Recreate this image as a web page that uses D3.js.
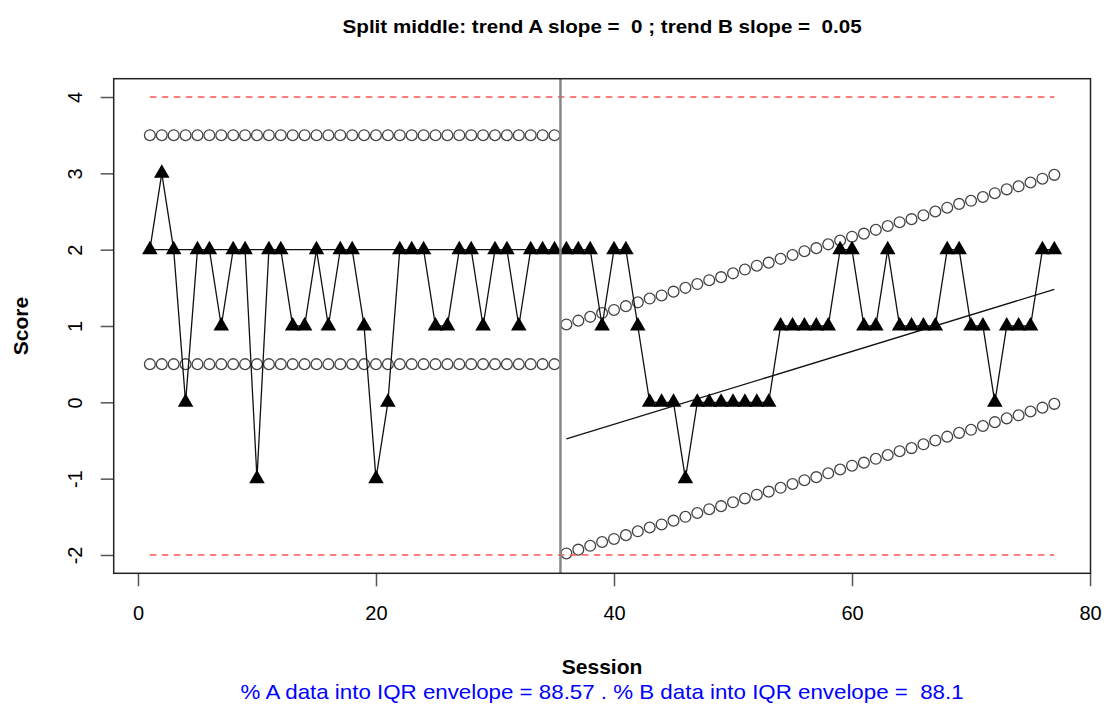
<!DOCTYPE html>
<html lang="en">
<head>
<meta charset="UTF-8">
<title>Split middle</title>
<script src="https://d3js.org/d3.v7.min.js"></script>
<style>
  body { margin: 0; background: #fff; }
  svg { display: block; font-family: "Liberation Sans", Arial, Helvetica, sans-serif; }
  svg text { white-space: pre; }
  .axis path { display: none; }
  .axis line { stroke: #555; stroke-width: 1.5; }
  .axis text { font-size: 20px; fill: #000; }
</style>
</head>
<body>
<script>

// phase A (baseline) and phase B sessions / scores
var sessionsA = [1,2,3,4,5,6,7,8,9,10,11,12,13,14,15,16,17,18,19,20,21,22,23,24,25,26,27,28,29,30,31,32,33,34,35];
var scoresA   = [2,3,2,0,2,2,1,2,2,-1,2,2,1,1,2,1,2,2,1,-1,0,2,2,2,1,1,2,2,1,2,2,1,2,2,2];

var sessionsB = [36,37,38,39,40,41,42,43,44,45,46,47,48,49,50,51,52,53,54,55,56,57,58,59,60,61,62,63,64,65,66,67,68,69,70,71,72,73,74,75,76,77];
var scoresB   = [2,2,2,1,2,2,1,0,0,0,-1,0,0,0,0,0,0,0,1,1,1,1,1,2,2,1,1,2,1,1,1,1,2,2,1,1,0,1,1,1,2,2];

// IQR envelope, phase A is flat
var envALower = 0.5, envAUpper = 3.5;
// phase B envelope, one value per session
var envBUpper = [1.02,1.07,1.12,1.17,1.21,1.26,1.31,1.36,1.40,1.45,1.50,1.55,1.60,1.64,1.69,1.74,1.79,1.83,1.88,1.93,1.98,
                 2.02,2.07,2.12,2.17,2.21,2.26,2.31,2.36,2.40,2.45,2.50,2.55,2.60,2.64,2.69,2.74,2.79,2.83,2.88,2.93,2.98];
var envBLower = [-1.98,-1.93,-1.88,-1.83,-1.79,-1.74,-1.69,-1.64,-1.60,-1.55,-1.50,-1.45,-1.40,-1.36,-1.31,-1.26,-1.21,-1.17,-1.12,-1.07,-1.02,
                 -0.98,-0.93,-0.88,-0.83,-0.79,-0.74,-0.69,-0.64,-0.60,-0.55,-0.50,-0.45,-0.40,-0.36,-0.31,-0.26,-0.21,-0.17,-0.12,-0.07,-0.02];

// split-middle trend lines (start, end)
var trendASessions = [1, 35], trendAValues = [2, 2];
var trendBSessions = [36, 77], trendBValues = [-0.48, 1.48];

var limitLines = [-2, 4];
var limitSessions = [1, 77];
var splitAt = 35.5;

var xTicks = [0, 20, 40, 60, 80];
var yTicks = [-2, -1, 0, 1, 2, 3, 4];

var titleText = "Split middle: trend A slope =  0 ; trend B slope =  0.05";
var xLabel = "Session", yLabel = "Score";
var noteText = "% A data into IQR envelope = 88.57 . % B data into IQR envelope =  88.1";

var W = 1116, H = 709;
var plot = {left: 113.7, right: 1090.5, top: 78.7, bottom: 573.3};

var x = d3.scaleLinear().domain([-2.04, 80.04]).range([plot.left, plot.right]);
var y = d3.scaleLinear().domain([-2.24, 4.24]).range([plot.bottom, plot.top]);

var svg = d3.select("body").append("svg")
    .attr("width", W)
    .attr("height", H);

// axes
var gx = svg.append("g")
    .attr("class", "axis")
    .attr("transform", "translate(0," + plot.bottom + ")")
    .call(d3.axisBottom(x).tickValues(xTicks).tickSize(13).tickSizeOuter(0)
        .tickFormat(function(d) { return String(d); }));
gx.selectAll("text").attr("y", 47).attr("dy", 0);

var gy = svg.append("g")
    .attr("class", "axis")
    .attr("transform", "translate(" + plot.left + ",0)")
    .call(d3.axisLeft(y).tickValues(yTicks).tickSize(13).tickSizeOuter(0)
        .tickFormat(function(d) { return String(d); }));
gy.selectAll("text")
    .attr("x", 0)
    .attr("dy", 0)
    .attr("text-anchor", "middle")
    .attr("transform", "translate(-31.5,0) rotate(-90)");

// envelopes
var circles = [];
sessionsA.forEach(function(s) {
    circles.push([s, envAUpper]);
    circles.push([s, envALower]);
});
sessionsB.forEach(function(s, i) {
    circles.push([s, envBUpper[i]]);
    circles.push([s, envBLower[i]]);
});
svg.append("g").selectAll("circle")
    .data(circles)
    .enter().append("circle")
    .attr("cx", function(d) { return x(d[0]); })
    .attr("cy", function(d) { return y(d[1]); })
    .attr("r", 5.4)
    .attr("fill", "none")
    .attr("stroke", "#444")
    .attr("stroke-width", 1.3);

// limit lines
svg.append("g").selectAll("line")
    .data(limitLines)
    .enter().append("line")
    .attr("x1", x(limitSessions[0]))
    .attr("x2", x(limitSessions[1]))
    .attr("y1", function(d) { return y(d); })
    .attr("y2", function(d) { return y(d); })
    .attr("stroke", "#ff5555")
    .attr("stroke-width", 1.5)
    .attr("stroke-dasharray", "6.5,5.5");

// trend lines
var line = d3.line()
    .x(function(d) { return x(d[0]); })
    .y(function(d) { return y(d[1]); });

svg.append("path")
    .datum(d3.zip(trendASessions, trendAValues))
    .attr("d", line)
    .attr("fill", "none")
    .attr("stroke", "#111")
    .attr("stroke-width", 1.3);

svg.append("path")
    .datum(d3.zip(trendBSessions, trendBValues))
    .attr("d", line)
    .attr("fill", "none")
    .attr("stroke", "#111")
    .attr("stroke-width", 1.3);

// data series
var pts = d3.zip(sessionsA.concat(sessionsB), scoresA.concat(scoresB));

svg.append("path")
    .datum(pts)
    .attr("d", line)
    .attr("fill", "none")
    .attr("stroke", "#111")
    .attr("stroke-width", 1.3);

svg.append("g").selectAll("path")
    .data(pts)
    .enter().append("path")
    .attr("d", d3.symbol(d3.symbolTriangle, 105))
    .attr("transform", function(d) { return "translate(" + x(d[0]) + "," + y(d[1]) + ")"; })
    .attr("fill", "#000");

// phase split
svg.append("line")
    .attr("x1", x(splitAt)).attr("x2", x(splitAt))
    .attr("y1", plot.top).attr("y2", plot.bottom)
    .attr("stroke", "#888")
    .attr("stroke-width", 2.5);

// box
svg.append("rect")
    .attr("x", plot.left)
    .attr("y", plot.top)
    .attr("width", plot.right - plot.left)
    .attr("height", plot.bottom - plot.top)
    .attr("fill", "none")
    .attr("stroke", "#222")
    .attr("stroke-width", 1.5);

// texts
var cx = (plot.left + plot.right) / 2;

svg.append("text")
    .attr("x", cx).attr("y", 33)
    .attr("text-anchor", "middle")
    .attr("font-size", 19)
    .attr("font-weight", "bold")
    .attr("textLength", 519)
    .attr("lengthAdjust", "spacingAndGlyphs")
    .text(titleText);

svg.append("text")
    .attr("x", cx).attr("y", 674)
    .attr("text-anchor", "middle")
    .attr("font-size", 21)
    .attr("font-weight", "bold")
    .text(xLabel);

svg.append("text")
    .attr("transform", "translate(28," + ((plot.top + plot.bottom) / 2) + ") rotate(-90)")
    .attr("text-anchor", "middle")
    .attr("font-size", 21)
    .attr("font-weight", "bold")
    .text(yLabel);

svg.append("text")
    .attr("x", cx).attr("y", 699)
    .attr("text-anchor", "middle")
    .attr("font-size", 21)
    .attr("fill", "#0000ff")
    .attr("textLength", 723)
    .attr("lengthAdjust", "spacingAndGlyphs")
    .text(noteText);

</script>
</body>
</html>
